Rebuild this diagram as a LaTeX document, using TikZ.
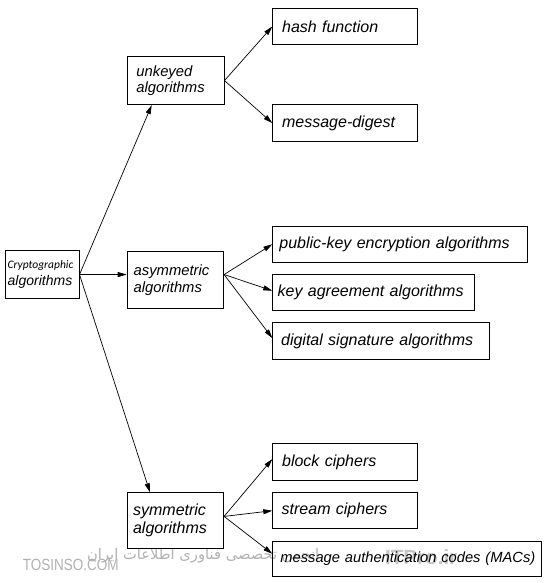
\documentclass[tikz,border=0pt]{standalone}
\usepackage{fontspec}
\usepackage{graphicx}
\setmainfont{Liberation Sans}
\newfontfamily\carlitofont{Carlito}
\newfontfamily\arabicfont[Script=Arabic]{DejaVu Sans}
\TeXXeTstate=1
\usetikzlibrary{arrows.meta}
\tikzset{
  box/.style n args={4}{draw, line width=0.8bp, anchor=north west,
    minimum width=#1bp, minimum height=#2bp, inner xsep=#3bp, inner ysep=0bp,
    text width=#4bp, align=left},
  bigtxt/.style={font=\fontsize{16bp}{18.3bp}\selectfont\itshape},
  midtxt/.style={font=\fontsize{14.8bp}{16.7bp}\selectfont\itshape},
  arr/.style={-{Triangle[length=9bp,width=5bp]}, line width=0.7bp},
  wmark/.style={text=black!30, inner sep=0pt}
}
\begin{document}
\begin{tikzpicture}[x=1bp,y=-1bp]
\useasboundingbox[fill=white] (0,0) rectangle (546,583);

% watermark
\node[wmark, anchor=west, font=\fontsize{13.5bp}{14bp}\selectfont] (wm1) at (22.6,565) {\scalebox{1}[1.2]{TOSINSO.COM}};
\node[wmark, anchor=west] (wm2) at (87,556) {\resizebox{232bp}{!}{\arabicfont\beginR انجمن تخصصی فناوری اطلاعات ایران\endR}};
\node[wmark, anchor=west, font=\bfseries, text=black!22] (wm3) at (385,557) {\resizebox{72bp}{!}{ITPro.ir}};

% boxes
\node[box={73.4}{48.3}{2}{69.4}, font=\fontsize{14bp}{16.6bp}\selectfont\itshape] (crypto) at (5.3,250)
  {{\carlitofont\fontsize{11.5bp}{12bp}\selectfont Cryptographic}\\algorithms};
\node[box={97}{48.3}{9.3}{78.4}, midtxt] (unkeyed) at (126.7,56) {unkeyed\\algorithms};
\node[box={96.6}{57.6}{6.6}{83.4}, midtxt] (asym) at (126.7,250.7) {asymmetric\\algorithms};
\node[box={96.6}{55.4}{6}{84.6}, bigtxt] (sym) at (126.7,492.3) {symmetric\\algorithms};

\node[box={144.4}{35.7}{9.4}{125.6}, bigtxt] (hash) at (272.3,8.3) {\mbox{hash function}};
\node[box={144.4}{36.7}{9.4}{125.6}, bigtxt] (md) at (272.3,104.3) {\mbox{message-digest}};
\node[box={255}{36.3}{6.7}{241.6}, bigtxt] (pk) at (272.3,225.7) {\mbox{public-key encryption algorithms}};
\node[box={201.7}{36}{5}{191.7}, bigtxt] (ka) at (272.3,274.3) {\mbox{key agreement algorithms}};
\node[box={217}{36.7}{8.4}{200.2}, bigtxt] (ds) at (272.3,322.3) {\mbox{digital signature algorithms}};
\node[box={145}{36.7}{9.4}{126.2}, bigtxt] (block) at (272.3,443.3) {\mbox{block ciphers}};
\node[box={145}{36}{9}{127}, bigtxt] (stream) at (272.3,492.3) {\mbox{stream ciphers}};
\node[box={268.4}{35.3}{7.7}{253}, font=\fontsize{14.7bp}{16bp}\selectfont\itshape] (mac) at (272.3,540.7) {\mbox{message authentication codes (MACs)}};

% connectors
\coordinate (asymout) at (crypto.east -| asym.east);
\coordinate (symout) at ([yshift=4bp]sym.east);
\draw[arr] (crypto.east) -- ([xshift=25bp]unkeyed.south west);
\draw[arr] (crypto.east) -- (crypto.east -| asym.west);
\draw[arr] (crypto.east) -- ([xshift=23.3bp]sym.north west);

\draw[arr] (unkeyed.east) -- (hash.west);
\draw[arr] (unkeyed.east) -- (md.west);

\draw[arr] (asymout) -- (pk.west);
\draw[arr] (asymout) -- ([yshift=2bp]ka.west);
\draw[arr] (asymout) -- ([yshift=3bp]ds.west);

\draw[arr] (symout) -- ([yshift=3bp]block.west);
\draw[arr] (symout) -- (stream.west);
\draw[arr] (symout) -- ([yshift=5bp]mac.west);
\end{tikzpicture}
\end{document}
